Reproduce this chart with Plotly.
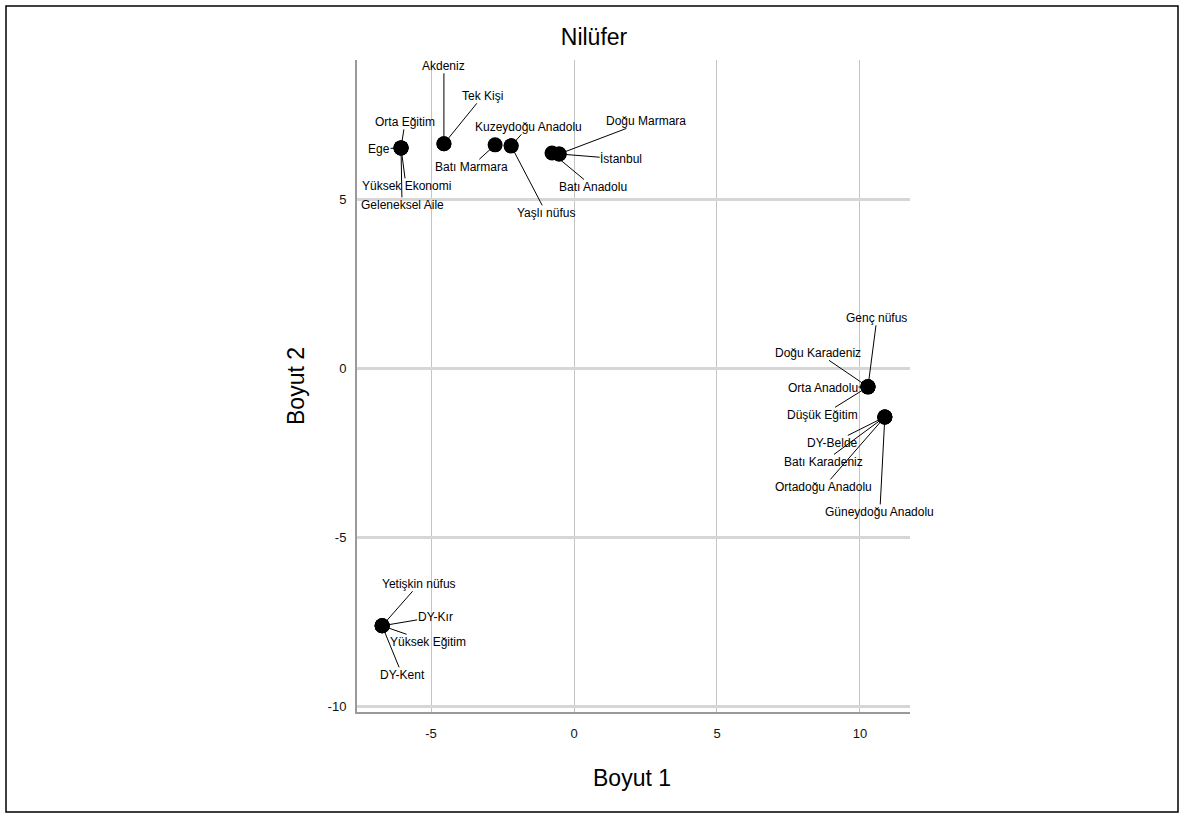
import plotly.graph_objects as go

# ---- data ----
categories = [
    "Ege", "Orta Eğitim", "Yüksek Ekonomi", "Geleneksel Aile",
    "Akdeniz", "Tek Kişi",
    "Batı Marmara",
    "Kuzeydoğu Anadolu", "Yaşlı nüfus",
    "Batı Anadolu",
    "Doğu Marmara", "İstanbul",
    "Genç nüfus", "Doğu Karadeniz", "Orta Anadolu", "Düşük Eğitim",
    "DY-Belde", "Batı Karadeniz", "Ortadoğu Anadolu", "Güneydoğu Anadolu",
    "Yetişkin nüfus", "DY-Kır", "Yüksek Eğitim", "DY-Kent",
]
boyut1 = [
    -6.05, -6.05, -6.05, -6.05,
    -4.55, -4.55,
    -2.76,
    -2.20, -2.20,
    -0.77,
    -0.52, -0.52,
    10.28, 10.28, 10.28, 10.28,
    10.87, 10.87, 10.87, 10.87,
    -6.71, -6.71, -6.71, -6.71,
]
boyut2 = [
    6.54, 6.54, 6.54, 6.54,
    6.66, 6.66,
    6.63,
    6.60, 6.60,
    6.39,
    6.36, 6.36,
    -0.53, -0.53, -0.53, -0.53,
    -1.42, -1.42, -1.42, -1.42,
    -7.60, -7.60, -7.60, -7.60,
]
x_ticks = [-5, 0, 5, 10]
x_tick_labels = ["-5", "0", "5", "10"]
y_ticks = [-10, -5, 0, 5]
y_tick_labels = ["-10", "-5", "0", "5"]
title_text = "Nilüfer"
x_title = "Boyut 1"
y_title = "Boyut 2"

# ---- label placement (pixel offsets of each label from its point) ----
label_offsets = {
    "Ege": (-22, 1), "Orta Eğitim": (4, -26), "Yüksek Ekonomi": (5, 38),
    "Geleneksel Aile": (1, 57),
    "Akdeniz": (0, -78), "Tek Kişi": (39, -48),
    "Batı Marmara": (-24, 22),
    "Kuzeydoğu Anadolu": (17, -19), "Yaşlı nüfus": (35, 67),
    "Batı Anadolu": (41, 34),
    "Doğu Marmara": (87, -33), "İstanbul": (62, 5),
    "Genç nüfus": (9, -69), "Doğu Karadeniz": (-50, -34),
    "Orta Anadolu": (-45, 1), "Düşük Eğitim": (-45, 28),
    "DY-Belde": (-52, 26), "Batı Karadeniz": (-61, 45),
    "Ortadoğu Anadolu": (-61, 70), "Güneydoğu Anadolu": (-5, 95),
    "Yetişkin nüfus": (37, -42), "DY-Kır": (53, -9),
    "Yüksek Eğitim": (46, 16), "DY-Kent": (20, 49),
}

FONT = "Liberation Sans, Arial, sans-serif"

fig = go.Figure()
fig.add_trace(go.Scatter(
    x=boyut1, y=boyut2, mode="markers", text=categories,
    marker=dict(size=15, color="black"),
    hoverinfo="text", showlegend=False,
))

annotations = []
for name, xv, yv in zip(categories, boyut1, boyut2):
    ax, ay = label_offsets[name]
    annotations.append(dict(
        x=xv, y=yv, xref="x", yref="y", text=name,
        showarrow=True, arrowhead=0, arrowwidth=1, arrowcolor="black",
        ax=ax, ay=ay, standoff=0, borderpad=0,
        font=dict(family=FONT, size=12, color="black"),
    ))

# plot area in pixels: x 357..910, y 60..712
L, R, T, B = 357, 910, 60, 712
W, H = 1185, 818
pw, ph = R - L, B - T

def px_to_paper(px, py):
    return (px - L) / pw, (B - py) / ph

tx, ty = px_to_paper(632, 778)
annotations.append(dict(x=tx, y=ty, xref="paper", yref="paper", text=x_title,
                        xanchor="center", yanchor="middle",
                        showarrow=False, font=dict(family=FONT, size=23, color="black")))
tx, ty = px_to_paper(296, 386)
annotations.append(dict(x=tx, y=ty, xref="paper", yref="paper", text=y_title,
                        xanchor="center", yanchor="middle",
                        showarrow=False, textangle=-90,
                        font=dict(family=FONT, size=23, color="black")))

x0p, y1p = px_to_paper(6, 6)
x1p, y0p = px_to_paper(1178, 812)

fig.update_layout(
    width=W, height=H,
    margin=dict(l=L, r=W - R, t=T, b=H - B),
    paper_bgcolor="white", plot_bgcolor="white",
    title=dict(text=title_text, x=594 / W, xanchor="center",
               y=1 - 37 / H, yanchor="middle", yref="container",
               font=dict(family=FONT, size=23, color="black")),
    annotations=annotations,
    shapes=[dict(type="rect", xref="paper", yref="paper",
                 x0=x0p, x1=x1p, y0=y0p, y1=y1p,
                 line=dict(color="black", width=1.5), layer="below")],
    xaxis=dict(range=[-7.59, 11.75], tickvals=x_ticks, ticktext=x_tick_labels,
               showgrid=True, gridcolor="#c4c4c4", gridwidth=1, zeroline=False,
               showline=True, linecolor="#9a9a9a", linewidth=2,
               ticks="", ticklabelstandoff=8,
               tickfont=dict(family=FONT, size=13, color="#111")),
    yaxis=dict(range=[-10.15, 9.14], tickvals=y_ticks, ticktext=y_tick_labels,
               showgrid=True, gridcolor="#d6d6d6", gridwidth=2.5, zeroline=False,
               showline=True, linecolor="#9a9a9a", linewidth=2,
               ticks="", ticklabelstandoff=6,
               tickfont=dict(family=FONT, size=13, color="#111")),
    hovermode="closest",
)

fig.write_html(
    "out.html",
    config={"displayModeBar": False},
    post_script="document.body.style.margin='0px';document.body.style.overflow='hidden';",
)
